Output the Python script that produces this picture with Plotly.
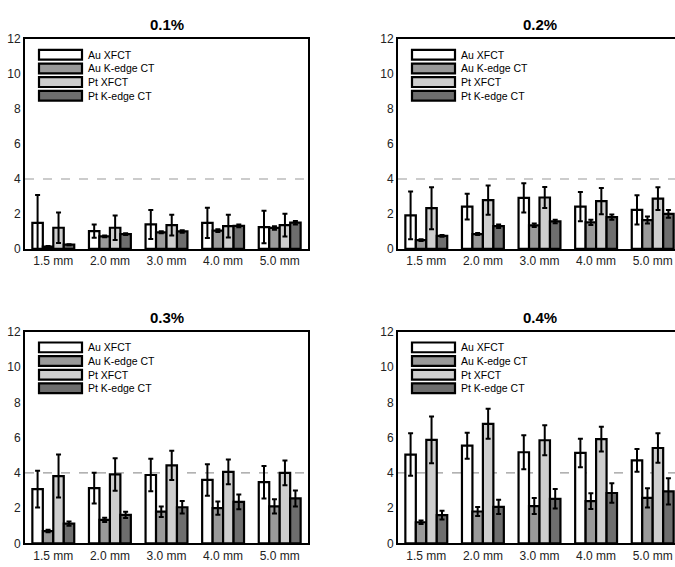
import plotly.graph_objects as go

categories = ["1.5 mm", "2.0 mm", "3.0 mm", "4.0 mm", "5.0 mm"]
series_names = ["Au XFCT", "Au K-edge CT", "Pt XFCT", "Pt K-edge CT"]
panel_titles = ["0.1%", "0.2%", "0.3%", "0.4%"]
y_ticks = [0, 2, 4, 6, 8, 10, 12]
threshold = 4

# 0.1%
p1_au_xfct = [1.49, 1.02, 1.40, 1.49, 1.25]
p1_au_xfct_err = [1.60, 0.38, 0.83, 0.87, 0.93]
p1_au_k = [0.13, 0.72, 0.95, 1.05, 1.20]
p1_au_k_err = [0.03, 0.05, 0.06, 0.08, 0.10]
p1_pt_xfct = [1.21, 1.21, 1.36, 1.30, 1.36]
p1_pt_xfct_err = [0.87, 0.70, 0.60, 0.65, 0.65]
p1_pt_k = [0.24, 0.85, 1.00, 1.32, 1.50]
p1_pt_k_err = [0.03, 0.05, 0.07, 0.08, 0.10]

# 0.2%
p2_au_xfct = [1.92, 2.42, 2.92, 2.42, 2.23]
p2_au_xfct_err = [1.37, 0.74, 0.84, 0.84, 0.84]
p2_au_k = [0.50, 0.85, 1.35, 1.52, 1.65]
p2_au_k_err = [0.05, 0.06, 0.10, 0.15, 0.20]
p2_pt_xfct = [2.33, 2.79, 2.94, 2.73, 2.88]
p2_pt_xfct_err = [1.20, 0.84, 0.60, 0.75, 0.65]
p2_pt_k = [0.74, 1.30, 1.57, 1.82, 2.00]
p2_pt_k_err = [0.05, 0.10, 0.10, 0.15, 0.22]

# 0.3%
p3_au_xfct = [3.08, 3.14, 3.88, 3.60, 3.47]
p3_au_xfct_err = [1.04, 0.87, 0.92, 0.89, 0.92]
p3_au_k = [0.70, 1.33, 1.80, 2.00, 2.10]
p3_au_k_err = [0.07, 0.12, 0.30, 0.38, 0.40]
p3_pt_xfct = [3.82, 3.91, 4.43, 4.06, 4.00]
p3_pt_xfct_err = [1.22, 0.92, 0.83, 0.70, 0.70]
p3_pt_k = [1.12, 1.62, 2.05, 2.36, 2.55]
p3_pt_k_err = [0.12, 0.18, 0.35, 0.42, 0.45]

# 0.4%
p4_au_xfct = [5.04, 5.54, 5.17, 5.13, 4.71]
p4_au_xfct_err = [1.20, 0.74, 0.96, 0.81, 0.64]
p4_au_k = [1.20, 1.81, 2.12, 2.40, 2.58]
p4_au_k_err = [0.10, 0.25, 0.45, 0.45, 0.55]
p4_pt_xfct = [5.87, 6.78, 5.85, 5.91, 5.41]
p4_pt_xfct_err = [1.33, 0.85, 0.85, 0.70, 0.83]
p4_pt_k = [1.60, 2.07, 2.53, 2.86, 2.95]
p4_pt_k_err = [0.25, 0.40, 0.55, 0.55, 0.75]

panels = [
    [(p1_au_xfct, p1_au_xfct_err), (p1_au_k, p1_au_k_err), (p1_pt_xfct, p1_pt_xfct_err), (p1_pt_k, p1_pt_k_err)],
    [(p2_au_xfct, p2_au_xfct_err), (p2_au_k, p2_au_k_err), (p2_pt_xfct, p2_pt_xfct_err), (p2_pt_k, p2_pt_k_err)],
    [(p3_au_xfct, p3_au_xfct_err), (p3_au_k, p3_au_k_err), (p3_pt_xfct, p3_pt_xfct_err), (p3_pt_k, p3_pt_k_err)],
    [(p4_au_xfct, p4_au_xfct_err), (p4_au_k, p4_au_k_err), (p4_pt_xfct, p4_pt_xfct_err), (p4_pt_k, p4_pt_k_err)],
]

colors = ["#ffffff", "#9a9a9a", "#cecece", "#6e6e6e"]
FONT = "Liberation Sans, Arial, Helvetica, sans-serif"
W, H = 675, 567

# pixel boxes of each plot area: left, right(visible), top, bottom
boxes = [
    (25, 308, 33, 248),
    (398, 675, 33, 248),
    (25, 308, 333, 550),
    (398, 675, 333, 550),
]
full_width = 283  # px width corresponding to 5 categories

fig = go.Figure()
shapes = []
annotations = []
layout_axes = {}

for i, (series, box) in enumerate(zip(panels, boxes)):
    L, R, T, B = box
    n = i + 1
    xa = "x" if n == 1 else f"x{n}"
    ya = "y" if n == 1 else f"y{n}"
    xkey = "xaxis" if n == 1 else f"xaxis{n}"
    ykey = "yaxis" if n == 1 else f"yaxis{n}"
    for name, (vals, errs), col in zip(series_names, series, colors):
        fig.add_trace(go.Bar(
            x=categories, y=vals, name=name, xaxis=xa, yaxis=ya,
            marker=dict(color=col, line=dict(color="black", width=2.2)),
            error_y=dict(type="data", array=errs, visible=True,
                         color="black", thickness=2, width=2.5),
            showlegend=False,
        ))
    vis_w = R - L
    unit = full_width / 5.0
    xmax = -0.5 + vis_w / unit
    right_open = R >= W
    layout_axes[xkey] = dict(
        domain=[L / W, R / W], anchor=ya, type="category",
        range=[-0.5, xmax], showline=True, linecolor="black", linewidth=2,
        mirror=True, ticks="", showgrid=False, zeroline=False,
        tickfont=dict(size=12, color="#222", family=FONT),
    )
    layout_axes[ykey] = dict(
        domain=[1 - B / H, 1 - T / H], anchor=xa,
        range=[0, 12], tickvals=y_ticks, showline=True, linecolor="black",
        linewidth=2, mirror=(not right_open), ticks="", showgrid=False,
        zeroline=False, tickfont=dict(size=12, color="#222", family=FONT),
    )
    # threshold dashed line
    shapes.append(dict(type="line", xref=f"{xa} domain", yref=ya,
                       x0=0, x1=1, y0=threshold, y1=threshold,
                       line=dict(color="#999999", width=1.2, dash="dash"),
                       layer="below"))
    # title
    annotations.append(dict(text=f"<b>{panel_titles[i]}</b>", xref="paper", yref="paper",
                            x=(L + full_width / 2) / W, y=1 - (T - 15) / H,
                            showarrow=False, xanchor="center", yanchor="middle",
                            font=dict(size=15, family=FONT, color="black")))
    # custom legend
    ph = B - T
    for k, (name, col) in enumerate(zip(series_names, colors)):
        cy = 16 + 14 * k
        shapes.append(dict(type="rect", xref=f"{xa} domain", yref=f"{ya} domain",
                           x0=14 / vis_w, x1=57 / vis_w,
                           y0=1 - (cy + 5) / ph, y1=1 - (cy - 5) / ph,
                           fillcolor=col, line=dict(color="black", width=2.2)))
        annotations.append(dict(text=name, xref=f"{xa} domain", yref=f"{ya} domain",
                                x=61 / vis_w, y=1 - cy / ph, showarrow=False,
                                xanchor="left", yanchor="middle",
                                font=dict(size=10.5, family=FONT, color="black")))

fig.update_layout(
    width=W, height=H, margin=dict(l=0, r=0, t=0, b=0),
    paper_bgcolor="white", plot_bgcolor="white",
    barmode="group", bargap=0.26, bargroupgap=0,
    shapes=shapes, annotations=annotations,
    font=dict(family=FONT),
    **layout_axes,
)

fig.write_html("out.html")
